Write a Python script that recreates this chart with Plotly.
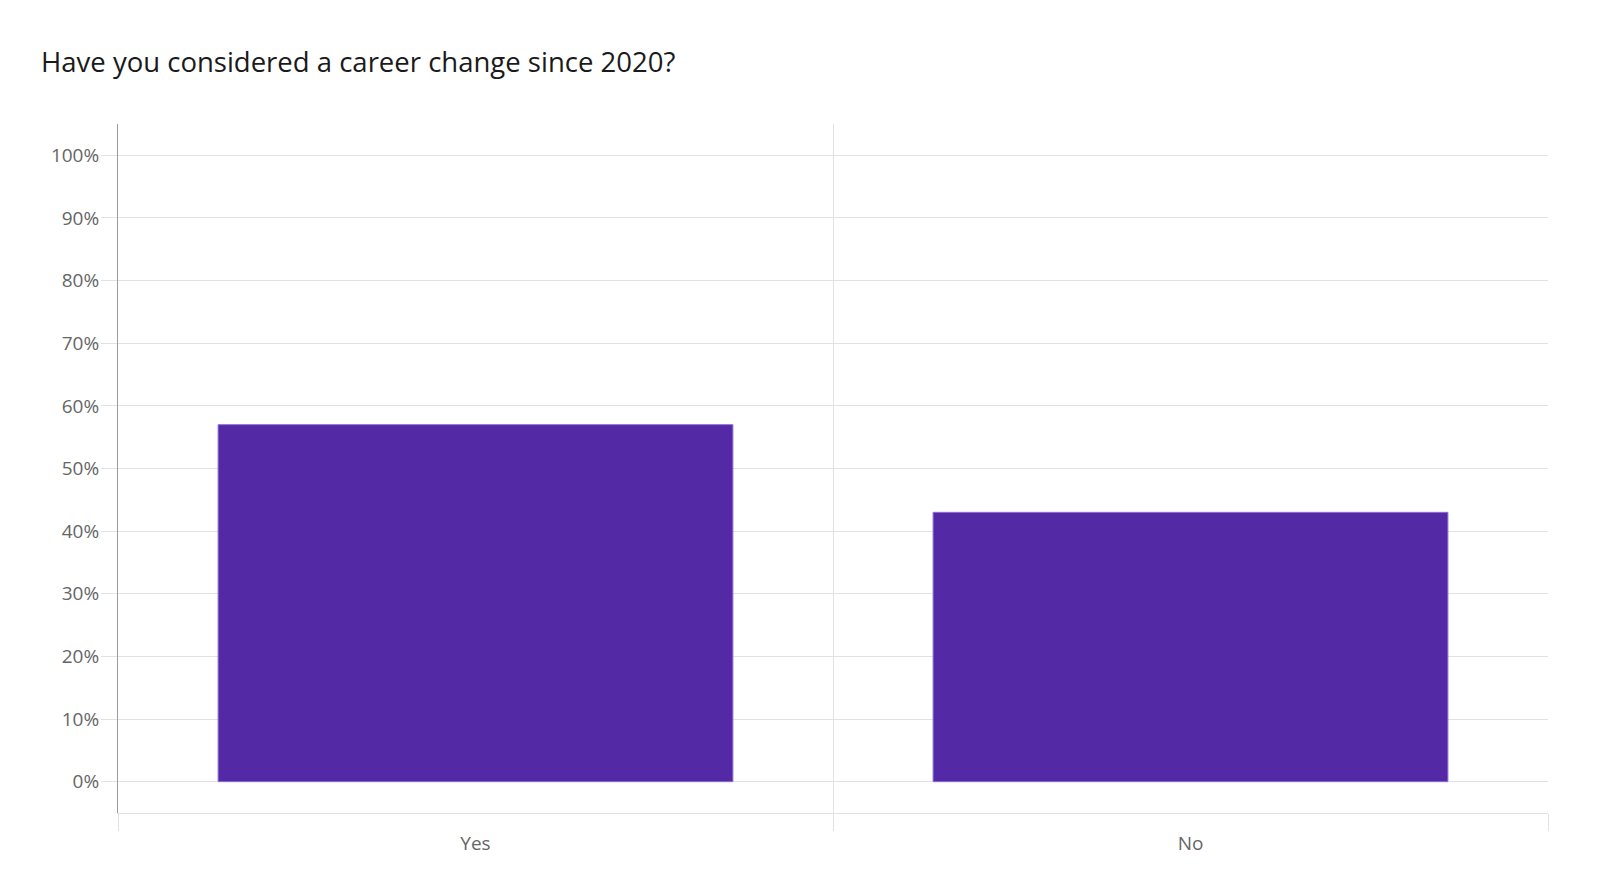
import plotly.graph_objects as go

categories = ["Yes", "No"]
values = [57, 43]
y_tick_values = [0, 10, 20, 30, 40, 50, 60, 70, 80, 90, 100]
y_tick_labels = [f"{v}%" for v in y_tick_values]
title_text = "Have you considered a career change since 2020?"

BAR = "#5329a6"
GRID = "#e2e2e2"
FONT = "Open Sans"
OFF = 8  # page body margin in the browser

fig = go.Figure(
    go.Bar(
        x=categories,
        y=values,
        width=0.72,
        marker=dict(color=BAR, line=dict(color="#8c6fd6", width=1)),
        hoverinfo="x+y",
    )
)

fig.update_layout(
    width=1600 - OFF,
    height=893 - OFF,
    paper_bgcolor="white",
    plot_bgcolor="white",
    margin=dict(l=118 - OFF, r=52, t=124 - OFF, b=80),
    showlegend=False,
    font=dict(family=FONT, color="#666666", size=19),
    title=dict(
        text=title_text,
        xref="container",
        x=(41 - OFF) / (1600 - OFF),
        xanchor="left",
        yref="container",
        y=1 - (72 - OFF) / (893 - OFF),
        yanchor="bottom",
        pad=dict(l=0, b=0, t=0, r=0),
        font=dict(family=FONT, size=27.5, color="#1a1a1a"),
    ),
)

fig.update_xaxes(
    type="category",
    tickson="boundaries",
    showgrid=True,
    gridcolor=GRID,
    gridwidth=1,
    ticks="outside",
    ticklen=17,
    tickcolor=GRID,
    ticklabelstandoff=13,
    showline=True,
    linecolor=GRID,
    linewidth=1,
    tickfont=dict(family=FONT, size=19, color="#666666"),
    range=[-0.5, 1.5],
    zeroline=False,
)
fig.update_yaxes(
    range=[-5, 105],
    tickvals=y_tick_values,
    ticktext=y_tick_labels,
    showgrid=True,
    gridcolor=GRID,
    gridwidth=1,
    ticks="outside",
    ticklen=16,
    tickcolor=GRID,
    ticklabelstandoff=-2,
    showline=True,
    linecolor="#9a9a9a",
    linewidth=1,
    zeroline=False,
    tickfont=dict(family=FONT, size=19, color="#666666"),
)

fig.write_html("out.html")
